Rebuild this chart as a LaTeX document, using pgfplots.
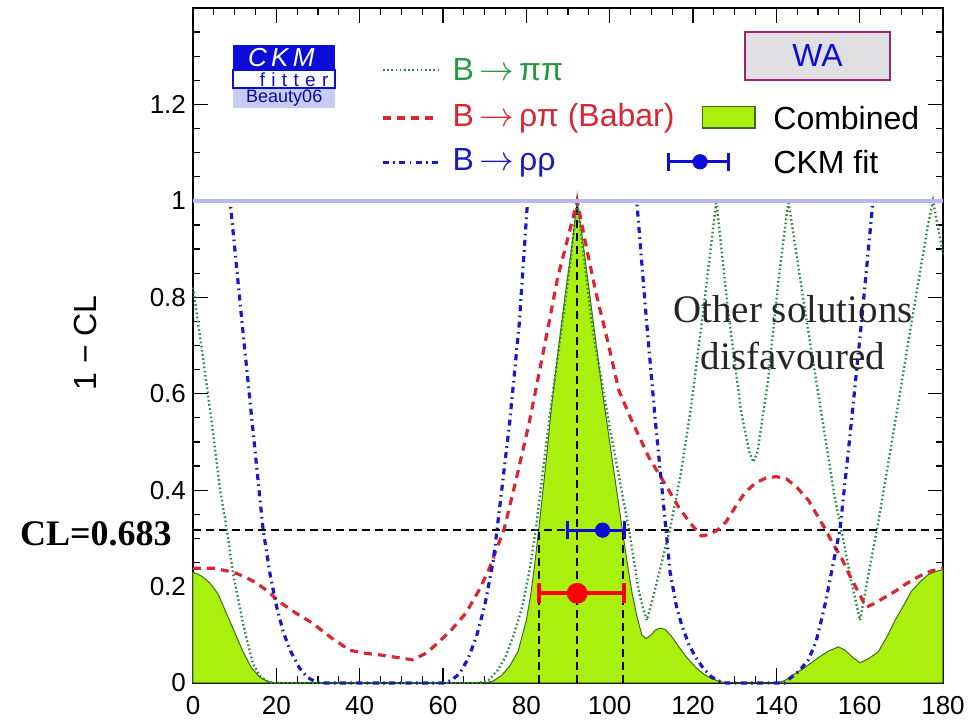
\documentclass[border=0pt]{standalone}
\usepackage{fontspec}
\setmainfont{Liberation Sans}
\newfontfamily\tnr{Liberation Serif}
\usepackage{pgfplots}
\pgfplotsset{compat=1.18}
\definecolor{ppgreen}{rgb}{0.18,0.52,0.28}
\definecolor{pptext}{rgb}{0.15,0.6,0.25}
\definecolor{rpred}{rgb}{0.85,0.15,0.2}
\definecolor{rrblue}{rgb}{0.1,0.1,0.78}
\definecolor{combfill}{rgb}{0.667,0.941,0.059}
\definecolor{combline}{rgb}{0.25,0.42,0.12}
\definecolor{lightb}{rgb}{0.72,0.72,0.95}
\definecolor{wafill}{rgb}{0.88,0.88,0.89}
\definecolor{waborder}{rgb}{0.6,0.15,0.45}
\definecolor{ckmblue}{rgb}{0.05,0.05,0.85}
\definecolor{ckmlight}{rgb}{0.78,0.8,0.96}

\pgfplotstableread{
x y
0 0.230
2 0.222
4 0.208
6 0.185
8 0.145
10 0.105
12 0.065
14 0.032
16 0.012
18 0.003
20 0
70 0
72 0.004
74 0.015
76 0.035
78 0.065
80 0.13
81 0.18
82 0.245
83 0.32
84 0.40
85 0.48
86 0.57
87.5 0.68
89.4 0.81
91 0.91
92.2 1.0
93.5 0.92
95 0.82
96.5 0.72
98.2 0.607
100 0.50
101.5 0.41
103 0.32
104.2 0.25
105.3 0.19
106.5 0.14
107.7 0.10
108.7 0.092
110 0.100
111 0.110
112.2 0.114
113.5 0.110
115 0.095
116.6 0.075
118.5 0.053
120.6 0.033
122.5 0.019
124.5 0.009
126.5 0.003
128 0
140 0
142 0.005
144.6 0.02
146.5 0.03
148.4 0.042
150.5 0.055
152.5 0.066
154.9 0.075
156.5 0.068
158.5 0.052
160.1 0.042
162 0.050
164.4 0.064
166.5 0.095
168.5 0.13
170.5 0.16
172.4 0.19
174.5 0.21
176.5 0.225
178.5 0.232
180 0.235
}\combined

\pgfplotstableread{
x y
0 0.238
5 0.238
9.6 0.23
12.5 0.22
15.3 0.207
18 0.19
20.8 0.168
24.5 0.146
28.7 0.124
33 0.095
37.6 0.068
41 0.062
45 0.058
49 0.053
52.7 0.048
56 0.062
59 0.085
62 0.11
65.5 0.145
68.5 0.19
71 0.235
74.7 0.32
77.5 0.42
80.7 0.54
83 0.64
85.4 0.745
87.5 0.84
89.8 0.917
92.2 1.0
94.5 0.90
96.7 0.81
99.5 0.71
102.2 0.607
105 0.55
109.4 0.468
113.5 0.41
116.6 0.364
119.5 0.33
122 0.305
124 0.308
126 0.318
128 0.335
130.5 0.37
132.5 0.395
135 0.415
137.5 0.425
140 0.428
142.5 0.423
145 0.405
147.7 0.379
150 0.345
151.7 0.32
153.5 0.29
155.6 0.26
157.5 0.225
159.6 0.19
161.6 0.157
163.5 0.165
165.5 0.175
168.5 0.19
171 0.205
174 0.22
177 0.232
180 0.238
}\rhopi

\pgfplotstableread{
x y
0 1
8.9 1
11.8 0.745
14.2 0.54
16.8 0.32
18.5 0.225
20.1 0.157
21.7 0.105
23.3 0.068
25.5 0.032
27.4 0.012
29.5 0.002
31 0
60 0
62 0.005
64 0.02
66 0.05
68 0.095
70 0.16
72 0.25
73 0.32
74.5 0.43
76 0.54
78.3 0.745
80.3 1.0
106.5 1.0
108.9 0.745
111 0.54
113.5 0.32
114.5 0.23
116 0.16
117.3 0.12
119 0.08
120.6 0.054
122.5 0.03
124.5 0.012
126.5 0.003
128 0
142 0
143.6 0.012
145.5 0.025
147.7 0.048
149.5 0.085
150.8 0.13
152 0.175
153.2 0.228
155.3 0.32
158 0.54
160.4 0.745
163.2 1.0
180 1
}\rhorho

\pgfplotstableread{
x y
0 0.82
2.4 0.675
4.5 0.54
6.5 0.40
8.1 0.32
9.6 0.228
12 0.124
13.2 0.08
14.4 0.04
16 0.015
17.7 0.004
19 0
68 0
70 0.003
71 0.007
73 0.025
75 0.054
77 0.1
79 0.157
80.7 0.23
82.3 0.32
85.4 0.54
88.6 0.745
90.5 0.87
92.2 1.0
94 0.87
95.7 0.745
97.8 0.64
99.8 0.54
102.2 0.43
104.6 0.32
107 0.19
108 0.155
108.9 0.13
110.5 0.18
112.5 0.25
114.5 0.32
117 0.43
119.5 0.57
122.4 0.767
125.6 1.0
128.5 0.766
131.6 0.56
133.5 0.48
134.5 0.458
135.5 0.48
138 0.627
140.5 0.834
142.9 1.0
147 0.766
150.8 0.56
154 0.386
156 0.3
158 0.21
160.1 0.13
162 0.22
164.4 0.33
168.5 0.54
172.4 0.745
176.4 0.95
177.6 1.0
180 0.89
}\pipi

\begin{document}
\begin{tikzpicture}
\useasboundingbox (-96.5pt,-19pt) rectangle (389pt,341.5pt);
\begin{axis}[
  at={(0pt,0pt)}, anchor=south west,
  scale only axis, width=375pt, height=337.5pt,
  xmin=0, xmax=180, ymin=0, ymax=1.4,
  clip=false,
  xtick={0,20,...,180},
  ytick={0,0.2,0.4,0.6,0.8,1,1.2,1.4},
  yticklabels={0,0.2,0.4,0.6,0.8,1,1.2,{}},
  minor x tick num=3, minor y tick num=3,
  tick align=inside,
  major tick length=7.5pt, minor tick length=3.5pt,
  axis line style={line width=0.8pt},
  tick style={black, line width=0.6pt},
  ticklabel style={font=\fontsize{13}{15}\selectfont},
  /pgf/number format/assume math mode=true,
  xticklabel style={yshift=-3pt},
  every axis y label/.style={at={(rel axis cs:-0.144,0.504)}, rotate=90, anchor=center, font=\fontsize{16}{18}\selectfont},
  ylabel={1 − CL},
]
% combined
\addplot[draw=combline, line width=0.5pt, fill=combfill] table[x=x,y=y] {\combined} \closedcycle;
% black dashed lines
\addplot[black, line width=0.9pt, dash pattern=on 4pt off 2.5pt] coordinates {(0,0.317) (180,0.317)};
\addplot[black, line width=0.9pt, dash pattern=on 4pt off 2.5pt] coordinates {(83,0) (83,0.317)};
\addplot[black, line width=0.9pt, dash pattern=on 4pt off 2.5pt] coordinates {(92.2,0) (92.2,1)};
\addplot[black, line width=0.9pt, dash pattern=on 4pt off 2.5pt] coordinates {(103.2,0) (103.2,0.317)};
% curves
\addplot[ppgreen, line width=1.2pt, dash pattern=on 0.8pt off 1.3pt] table[x=x,y=y] {\pipi};
\addplot[rpred, line width=1.6pt, dash pattern=on 4pt off 3pt] table[x=x,y=y] {\rhopi};
\addplot[rrblue, line width=1.6pt, dash pattern=on 3pt off 2.2pt on 0.8pt off 2.2pt] table[x=x,y=y] {\rhorho};
% light blue line at 1
\addplot[lightb, line width=1.8pt] coordinates {(0,1) (180,1)};
% red WA result
\addplot[red, line width=2pt] coordinates {(83,0.186) (103.4,0.186)};
\addplot[red, line width=2pt] coordinates {(83,0.165) (83,0.207)};
\addplot[red, line width=2pt] coordinates {(103.4,0.165) (103.4,0.207)};
\addplot[red, only marks, mark=*, mark size=5pt] coordinates {(92.2,0.186)};
% blue CKM fit
\addplot[ckmblue, line width=1.5pt] coordinates {(89.8,0.317) (103.6,0.317)};
\addplot[ckmblue, line width=1.5pt] coordinates {(89.8,0.298) (89.8,0.336)};
\addplot[ckmblue, line width=1.5pt] coordinates {(103.6,0.298) (103.6,0.336)};
\addplot[ckmblue, only marks, mark=*, mark size=3.6pt] coordinates {(98.3,0.317)};

% legend samples
\addplot[ppgreen, line width=1.2pt, dash pattern=on 0.8pt off 1.3pt] coordinates {(45.6,1.272) (58.8,1.272)};
\addplot[rpred, line width=1.6pt, dash pattern=on 4pt off 3pt] coordinates {(45.6,1.172) (58.8,1.172)};
\addplot[rrblue, line width=1.6pt, dash pattern=on 3pt off 2.2pt on 0.8pt off 2.2pt] coordinates {(45.6,1.079) (58.8,1.079)};
\node[anchor=west, text=pptext, font=\fontsize{16}{18}\selectfont, inner sep=0pt] at (axis cs:62.2,1.272) {B\,$\rightarrow$\,ππ};
\node[anchor=west, text=rpred, font=\fontsize{16}{18}\selectfont, inner sep=0pt] at (axis cs:62.2,1.172) {B\,$\rightarrow$\,ρπ (Babar)};
\node[anchor=west, text=rrblue, font=\fontsize{16}{18}\selectfont, inner sep=0pt] at (axis cs:62.2,1.079) {B\,$\rightarrow$\,ρρ};

\filldraw[fill=combfill, draw=combline, line width=0.6pt] (axis cs:122.2,1.151) rectangle (axis cs:134.9,1.195);
\node[anchor=west, font=\fontsize{16}{18}\selectfont, inner sep=0pt] at (axis cs:139.2,1.172) {Combined};
\addplot[ckmblue, line width=1.5pt] coordinates {(114.2,1.081) (128.6,1.081)};
\addplot[ckmblue, line width=1.5pt] coordinates {(114.2,1.062) (114.2,1.100)};
\addplot[ckmblue, line width=1.5pt] coordinates {(128.6,1.062) (128.6,1.100)};
\addplot[ckmblue, only marks, mark=*, mark size=3.6pt] coordinates {(121.7,1.081)};
\node[anchor=west, font=\fontsize{16}{18}\selectfont, inner sep=0pt] at (axis cs:139.2,1.081) {CKM fit};

% WA box
\filldraw[fill=wafill, draw=waborder, line width=0.8pt] (axis cs:132.5,1.251) rectangle (axis cs:167.3,1.35);
\node[text=ckmblue, font=\fontsize{16}{18}\selectfont] at (axis cs:149.9,1.301) {WA};

% CKMfitter logo
\fill[ckmblue] (axis cs:9.6,1.272) rectangle (axis cs:34.1,1.324);
\filldraw[fill=white, draw=ckmblue, line width=0.8pt] (axis cs:9.6,1.234) rectangle (axis cs:34.1,1.272);
\fill[ckmlight] (axis cs:9.6,1.193) rectangle (axis cs:34.1,1.233);
\node[text=white, font=\fontsize{13}{15}\selectfont\itshape] at (axis cs:21.2,1.298) {C\,K\,M};
\node[anchor=east, text=ckmblue, font=\fontsize{9.5}{11}\selectfont, inner sep=0pt] at (axis cs:32.6,1.252) {f\,\,i\,\,t\,\,t\,\,e\,\,r};
\node[text=ckmblue!70!black, font=\fontsize{9}{11}\selectfont] at (axis cs:21.9,1.213) {Beauty06};

% texts
\node[anchor=base east, font=\fontsize{18}{20}\selectfont\tnr\bfseries, inner sep=0pt, xshift=-10.5pt] at (axis cs:0,0.286) {CL=0.683};
\node[align=center, font=\fontsize{19.5}{23.5}\selectfont\tnr, text=black!85] at (axis cs:144,0.726) {Other solutions\\disfavoured};
\end{axis}
\end{tikzpicture}
\end{document}
